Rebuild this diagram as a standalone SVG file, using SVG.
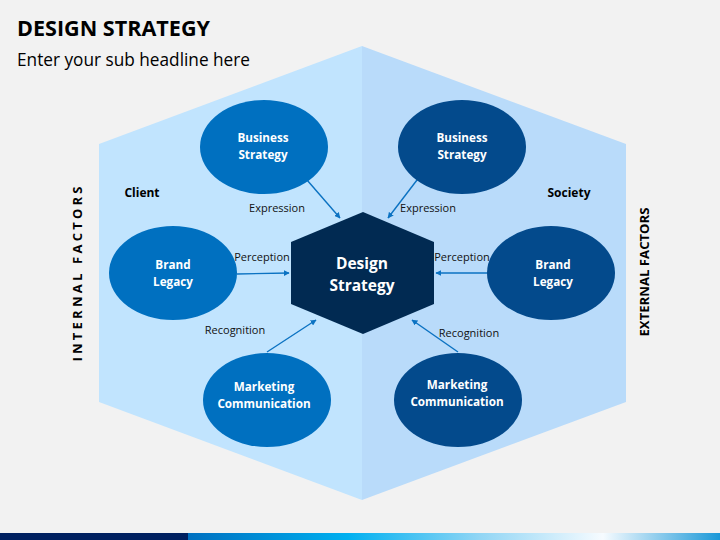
<svg xmlns="http://www.w3.org/2000/svg" width="720" height="540" viewBox="0 0 720 540">
<style>
text{font-family:"Open Sans","Liberation Sans",sans-serif;}
.lbl{font-size:11px;fill:#111;text-anchor:middle;}
.nt{font-size:11.7px;font-weight:bold;fill:#fff;text-anchor:middle;}
.side{font-size:12px;font-weight:bold;fill:#000;text-anchor:middle;}
.fac{font-size:13px;font-weight:bold;fill:#000;text-anchor:middle;}
.conn{stroke:#0b72c2;stroke-width:1.4;fill:none;marker-end:url(#ah);}
.el{fill:#0070c0;}
.er{fill:#034a8c;}
</style>
<defs>
<marker id="ah" viewBox="0 0 10 10" refX="9" refY="5" markerWidth="6" markerHeight="6" orient="auto" markerUnits="userSpaceOnUse">
<path d="M0,0 L10,5 L0,10 z" fill="#0b72c2"/>
</marker>
<linearGradient id="bar" x1="188" y1="0" x2="720" y2="0" gradientUnits="userSpaceOnUse">
<stop offset="0" stop-color="#0070c0"/>
<stop offset="0.3" stop-color="#00b0f0"/>
<stop offset="0.55" stop-color="#92d6f5"/>
<stop offset="0.78" stop-color="#f6fbff"/>
<stop offset="1" stop-color="#1a98d8"/>
</linearGradient>
</defs>
<rect width="720" height="540" fill="#f2f2f2"/>
<rect x="0" y="533" width="188" height="7" fill="#002060"/>
<rect x="188" y="533" width="532" height="7" fill="url(#bar)"/>
<text x="17" y="36" font-size="22" font-weight="bold" fill="#000" textLength="193" lengthAdjust="spacingAndGlyphs">DESIGN STRATEGY</text>
<text x="17" y="66" font-size="18" fill="#000" textLength="233" lengthAdjust="spacingAndGlyphs">Enter your sub headline here</text>
<g id="background-hexagon">
<polygon points="362,46 99,144 99,402 362,500" fill="#c1e4fe"/>
<polygon points="362,46 626,144 626,402 362,500" fill="#b9dbfa"/>
</g>
<g id="side-labels">
<text class="side" x="142" y="197">Client</text>
<text class="side" x="569" y="197">Society</text>
<text class="fac" transform="translate(82,274) rotate(-90)" textLength="175" lengthAdjust="spacing">INTERNAL FACTORS</text>
<text class="fac" transform="translate(649,272) rotate(-90)" textLength="129" lengthAdjust="spacingAndGlyphs">EXTERNAL FACTORS</text>
</g>
<g id="connectors">
<line class="conn" x1="307" y1="180" x2="340" y2="218"/>
<line class="conn" x1="417" y1="180" x2="388" y2="218"/>
<line class="conn" x1="237" y1="274" x2="289" y2="273"/>
<line class="conn" x1="487" y1="273" x2="436" y2="273"/>
<line class="conn" x1="267" y1="352" x2="316" y2="320"/>
<line class="conn" x1="458" y1="352" x2="412" y2="320"/>
<text class="lbl" x="277" y="212">Expression</text>
<text class="lbl" x="428" y="212">Expression</text>
<text class="lbl" x="262" y="261">Perception</text>
<text class="lbl" x="462" y="261">Perception</text>
<text class="lbl" x="235" y="334">Recognition</text>
<text class="lbl" x="469" y="337">Recognition</text>
</g>
<g id="design-strategy">
<polygon points="363,212 434,242 434,304 363,334 291,304 291,242" fill="#012a52"/>
<text x="362" y="269" font-size="15.5" font-weight="bold" fill="#fff" text-anchor="middle">Design</text>
<text x="362" y="291" font-size="15.5" font-weight="bold" fill="#fff" text-anchor="middle">Strategy</text>
</g>
<g id="business-strategy-left">
<ellipse class="el" cx="264" cy="147" rx="64" ry="47"/>
<text class="nt" x="263" y="142">Business</text>
<text class="nt" x="263" y="159">Strategy</text>
</g>
<g id="business-strategy-right">
<ellipse class="er" cx="462" cy="147" rx="64" ry="47"/>
<text class="nt" x="462" y="142">Business</text>
<text class="nt" x="462" y="159">Strategy</text>
</g>
<g id="brand-legacy-left">
<ellipse class="el" cx="173" cy="273" rx="64" ry="47"/>
<text class="nt" x="173" y="269">Brand</text>
<text class="nt" x="173" y="286">Legacy</text>
</g>
<g id="brand-legacy-right">
<ellipse class="er" cx="551" cy="273" rx="64" ry="47"/>
<text class="nt" x="553" y="269">Brand</text>
<text class="nt" x="553" y="286">Legacy</text>
</g>
<g id="marketing-communication-left">
<ellipse class="el" cx="267" cy="400" rx="64" ry="47"/>
<text class="nt" x="264" y="391">Marketing</text>
<text class="nt" x="264" y="408">Communication</text>
</g>
<g id="marketing-communication-right">
<ellipse class="er" cx="458" cy="400" rx="64" ry="47"/>
<text class="nt" x="457" y="389">Marketing</text>
<text class="nt" x="457" y="406">Communication</text>
</g>
</svg>
